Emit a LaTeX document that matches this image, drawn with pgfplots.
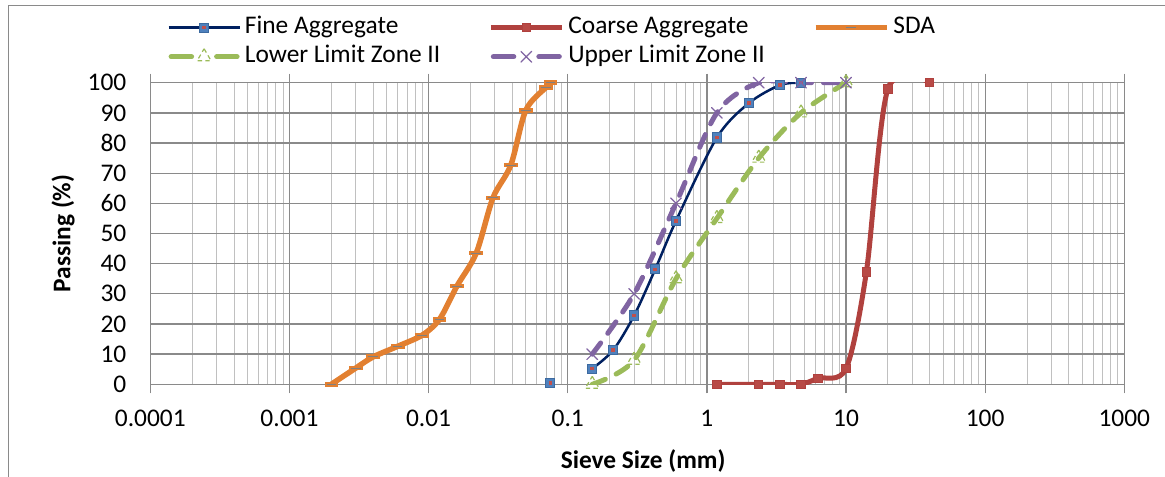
\documentclass[border=0pt]{standalone}
\usepackage{pgfplots}
\pgfplotsset{compat=1.18}
\usepackage{fontspec}
\setmainfont{Carlito}
\definecolor{finenavy}{HTML}{002060}
\definecolor{fineblue}{HTML}{4F81BD}
\definecolor{fineblueedge}{HTML}{3C6AA0}
\definecolor{finered}{HTML}{C0504D}
\definecolor{coarsered}{HTML}{B0413E}
\definecolor{coarsemark}{HTML}{B84A46}
\definecolor{sdaorange}{HTML}{E28031}
\definecolor{lowgreen}{HTML}{9BBB59}
\definecolor{uppurple}{HTML}{8064A2}
\definecolor{gridmajor}{HTML}{8A8A8A}
\definecolor{gridminor}{HTML}{C0C0C0}
\definecolor{framegray}{HTML}{8A8A8A}
\newcommand\lab{\fontsize{12.7}{15.2}\selectfont}
\pgfdeclareplotmark{finesq}{%
  \pgfpathrectangle{\pgfpoint{-\pgfplotmarksize}{-\pgfplotmarksize}}{\pgfpoint{2\pgfplotmarksize}{2\pgfplotmarksize}}%
  \pgfsetfillcolor{fineblue}\pgfsetstrokecolor{fineblueedge}\pgfsetlinewidth{0.5pt}\pgfusepath{fill,stroke}%
  \pgfpathrectangle{\pgfpoint{-0.38\pgfplotmarksize}{-0.38\pgfplotmarksize}}{\pgfpoint{0.76\pgfplotmarksize}{0.76\pgfplotmarksize}}%
  \pgfsetfillcolor{finered}\pgfusepath{fill}%
}
\pgfdeclareplotmark{hbar}{%
  \pgfpathrectangle{\pgfpoint{-\pgfplotmarksize}{-0.35\pgfplotmarksize}}{\pgfpoint{2\pgfplotmarksize}{0.7\pgfplotmarksize}}%
  \pgfsetfillcolor{sdaorange}\pgfusepath{fill}%
  \pgfpathmoveto{\pgfpoint{-0.7\pgfplotmarksize}{0pt}}\pgfpathlineto{\pgfpoint{0.7\pgfplotmarksize}{0pt}}%
  \pgfsetstrokecolor{gray}\pgfsetlinewidth{0.45pt}\pgfusepath{stroke}%
}
\begin{document}
\begin{tikzpicture}
\useasboundingbox (0,0) rectangle (582.5pt,-238pt);
\draw[color=framegray, line width=0.6pt] (4.15pt,-260pt) -- (4.15pt,-2.65pt) -- (600pt,-2.65pt);
\begin{axis}[
  at={(75.15pt,-192.15pt)}, anchor=south west,
  scale only axis, width=487pt, height=150.8pt,
  xmode=log, xmin=1e-4, xmax=1e3, ymin=0, ymax=100,
  xtick={1e-4,1e-3,1e-2,1e-1,1,10,100,1000},
  xticklabels={0.0001,0.001,0.01,0.1,1,10,100,1000},
  ytick={0,10,...,100},
  xmajorgrids, xminorgrids, ymajorgrids,
  major grid style={color=gridmajor, line width=0.65pt},
  minor grid style={color=gridminor, line width=0.5pt},
  axis line style={color=gridmajor, line width=0.65pt},
  tick align=outside, major tick length=4.5pt, minor tick length=0pt,
  xtick style={color=gridmajor, line width=0.65pt},
  ytick style={draw=none},
  tick label style={font=\lab},
  xticklabel style={yshift=-5pt},
  yticklabel style={xshift=-4pt},
  /pgf/number format/assume math mode=true,
  xlabel={Sieve Size (mm)}, ylabel={Passing (\%)},
  every axis x label/.style={at={(axis description cs:0.506,-0.254)}, anchor=center, font=\lab\bfseries},
  every axis y label/.style={at={(axis description cs:-0.0896,0.5)}, rotate=90, anchor=center, font=\lab\bfseries},
  legend columns=3,
  legend style={at={(axis description cs:0.0171,1.23)}, anchor=north west, draw=none, fill=none,
    inner sep=0pt, column sep=1pt, row sep=0.5pt, font=\lab,
    nodes={inner sep=1pt, text height=9pt, text depth=3pt},
    /tikz/every even column/.append style={column sep=23pt}},
  legend cell align=left,
  legend image code/.code={\draw[mark repeat=2,mark phase=2] plot coordinates {(0pt,0pt)(17.75pt,0pt)(35.5pt,0pt)};},
]
\addplot[forget plot, only marks, mark=finesq, mark size=2.3pt] coordinates {(0.075,0.5)};
\addplot[color=finenavy, line width=1.25pt, smooth, mark=finesq, mark size=2.3pt] coordinates {
(0.15,5.2)(0.212,11.3)(0.3,22.8)(0.425,38.1)(0.6,54.2)(1.18,81.8)(2,93.2)(3.35,99.2)(4.75,100)};
\addlegendentry{Fine Aggregate}
\addplot[color=coarsered, line width=2.5pt, smooth, mark=square*, mark size=2.1pt,
  mark options={fill=coarsemark, draw=coarsered, line width=0.5pt}] coordinates {
(1.18,0)(2.36,0)(3.35,0)(4.75,0)(6.3,2)(10,5.2)(14,37.2)(20,97.9)(40,100)};
\addlegendentry{Coarse Aggregate}
\addplot[color=sdaorange, line width=2.75pt, smooth, mark=hbar, mark size=3.4pt] coordinates {
(0.002,0)(0.003,5.4)(0.004,9.1)(0.006,12.6)(0.009,16.3)(0.012,21.6)(0.016,32.6)(0.022,43.5)(0.029,61.8)(0.039,72.7)(0.05,90.9)(0.07,98.5)(0.075,100)};
\addlegendentry{SDA}
\addplot[color=lowgreen, line width=2.5pt, smooth, line cap=round, dash pattern=on 7pt off 6pt,
  mark=triangle, mark size=4pt, mark options={line width=0.6pt, line cap=butt, dash pattern=on 2.2pt off 1.6pt},
  legend image code/.code={\draw[solid] (1.25pt,0pt)--(11.5pt,0pt) (24pt,0pt)--(34.25pt,0pt); \draw plot coordinates {(17.75pt,0pt)};}] coordinates {
(0.15,0)(0.3,8)(0.6,35)(1.18,55)(2.36,75)(4.75,90)(10,100)};
\addlegendentry{Lower Limit Zone II}
\addplot[color=uppurple, line width=2.5pt, smooth, line cap=round, dash pattern=on 7pt off 6pt,
  mark=x, mark size=3.8pt, mark options={line width=0.6pt, solid},
  legend image code/.code={\draw[solid] (1.25pt,0pt)--(11.5pt,0pt) (24pt,0pt)--(34.25pt,0pt); \draw plot coordinates {(17.75pt,0pt)};}] coordinates {
(0.15,10)(0.3,30)(0.6,60)(1.18,90)(2.36,100)(4.75,100)(10,100)};
\addlegendentry{Upper Limit Zone II}
\end{axis}
\end{tikzpicture}
\end{document}
